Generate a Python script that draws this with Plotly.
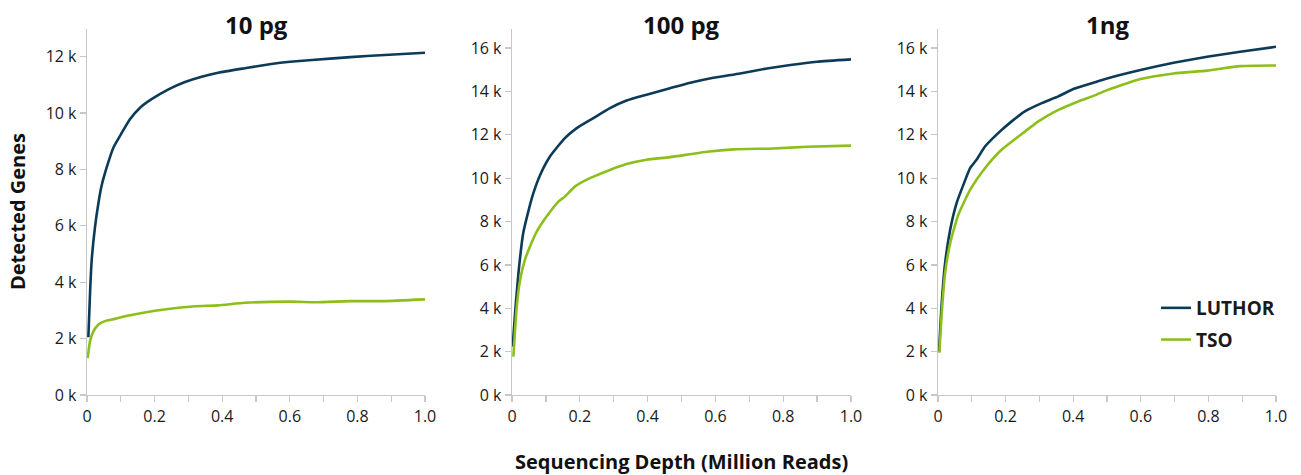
import plotly.graph_objects as go

# ---------------- data ----------------
panel_titles = ["10 pg", "100 pg", "1ng"]
series_names = ["LUTHOR", "TSO"]

p1_luthor_x = [0.004, 0.009, 0.014, 0.024, 0.034, 0.043, 0.058, 0.078, 0.103, 0.127, 0.157, 0.191, 0.241, 0.290, 0.339, 0.388, 0.467, 0.540, 0.601, 0.729, 0.828, 1.0]
p1_luthor_y = [2050, 3620, 4800, 5990, 6820, 7410, 8060, 8770, 9300, 9780, 10190, 10490, 10840, 11100, 11290, 11430, 11590, 11730, 11820, 11940, 12020, 12140]
p1_tso_x = [0.002, 0.009, 0.019, 0.034, 0.053, 0.083, 0.112, 0.162, 0.241, 0.320, 0.388, 0.467, 0.601, 0.680, 0.778, 0.877, 1.0]
p1_tso_y = [1310, 1910, 2260, 2500, 2620, 2700, 2790, 2910, 3050, 3150, 3180, 3270, 3310, 3290, 3330, 3330, 3390]

p2_luthor_x = [0.002, 0.009, 0.019, 0.033, 0.048, 0.063, 0.083, 0.112, 0.156, 0.191, 0.240, 0.289, 0.338, 0.397, 0.466, 0.526, 0.594, 0.673, 0.752, 0.821, 0.900, 1.0]
p2_luthor_y = [2230, 3770, 5620, 7460, 8460, 9310, 10150, 11000, 11850, 12310, 12770, 13230, 13580, 13850, 14150, 14400, 14630, 14830, 15060, 15220, 15370, 15480]
p2_tso_x = [0.004, 0.014, 0.024, 0.038, 0.053, 0.073, 0.102, 0.137, 0.156, 0.186, 0.230, 0.289, 0.338, 0.397, 0.466, 0.575, 0.654, 0.772, 0.870, 1.0]
p2_tso_y = [1770, 4080, 5310, 6230, 6850, 7540, 8230, 8920, 9150, 9620, 10000, 10380, 10650, 10850, 10970, 11220, 11330, 11370, 11450, 11500]

p3_luthor_x = [0.003, 0.011, 0.021, 0.036, 0.055, 0.075, 0.095, 0.114, 0.139, 0.178, 0.218, 0.257, 0.307, 0.356, 0.396, 0.464, 0.500, 0.599, 0.697, 0.796, 0.894, 1.0]
p3_luthor_y = [2000, 4230, 6080, 7620, 8850, 9690, 10460, 10850, 11460, 12080, 12620, 13080, 13460, 13770, 14080, 14420, 14600, 14990, 15320, 15600, 15830, 16060]
p3_tso_x = [0.004, 0.011, 0.021, 0.036, 0.060, 0.095, 0.139, 0.188, 0.238, 0.297, 0.356, 0.415, 0.464, 0.500, 0.599, 0.697, 0.796, 0.894, 1.0]
p3_tso_y = [1950, 3770, 5620, 7000, 8310, 9460, 10460, 11310, 11920, 12620, 13150, 13540, 13820, 14060, 14570, 14830, 14960, 15170, 15200]

x_tickvals = [0, 0.1, 0.2, 0.3, 0.4, 0.5, 0.6, 0.7, 0.8, 0.9, 1.0]
x_ticktext = ["0", "", "0.2", "", "0.4", "", "0.6", "", "0.8", "", "1.0"]
y1_tickvals = [0, 2000, 4000, 6000, 8000, 10000, 12000]
y1_ticktext = ["0 k", "2 k", "4 k", "6 k", "8 k", "10 k", "12 k"]
y2_tickvals = [0, 2000, 4000, 6000, 8000, 10000, 12000, 14000, 16000]
y2_ticktext = ["0 k", "2 k", "4 k", "6 k", "8 k", "10 k", "12 k", "14 k", "16 k"]

x_title = "Sequencing Depth (Million Reads)"
y_title = "Detected Genes"

# ---------------- style ----------------
C_LUTHOR = "#0c3b58"
C_TSO = "#8dbe1a"
AXIS_C = "#c8c8c8"
FONT = "Open Sans"
W, H = 1301, 475

x_domains = [[87 / W, 425 / W], [512 / W, 851 / W], [938 / W, 1276 / W]]
y_domain = [1 - 395 / H, 1 - 29 / H]
y_ranges = [[0, 12980], [0, 16880], [0, 16880]]

fig = go.Figure()

panels = [
    (p1_luthor_x, p1_luthor_y, p1_tso_x, p1_tso_y),
    (p2_luthor_x, p2_luthor_y, p2_tso_x, p2_tso_y),
    (p3_luthor_x, p3_luthor_y, p3_tso_x, p3_tso_y),
]

for i, (lx, ly, tx, ty) in enumerate(panels):
    xa = "x" if i == 0 else f"x{i+1}"
    ya = "y" if i == 0 else f"y{i+1}"
    fig.add_trace(go.Scatter(x=lx, y=ly, mode="lines", name=series_names[0],
                             line=dict(color=C_LUTHOR, width=2.6, shape="spline", smoothing=0.5),
                             xaxis=xa, yaxis=ya, showlegend=(i == 2),
                             legendgroup="a"))
    fig.add_trace(go.Scatter(x=tx, y=ty, mode="lines", name=series_names[1],
                             line=dict(color=C_TSO, width=2.6, shape="spline", smoothing=0.5),
                             xaxis=xa, yaxis=ya, showlegend=(i == 2),
                             legendgroup="b"))

layout = dict(
    width=W, height=H, autosize=False,
    margin=dict(l=0, r=0, t=0, b=0, pad=0, autoexpand=False),
    paper_bgcolor="white", plot_bgcolor="white",
    font=dict(family=FONT, color="#1a1a1a", size=16),
    legend=dict(x=1156 / W, y=1 - 289 / H, xanchor="left", yanchor="top",
                bgcolor="rgba(0,0,0,0)", traceorder="grouped", tracegroupgap=4,
                font=dict(family=FONT, size=19, color="#1a1a1a", weight="bold"),
                itemwidth=30),
)

for i in range(3):
    xk = "xaxis" if i == 0 else f"xaxis{i+1}"
    yk = "yaxis" if i == 0 else f"yaxis{i+1}"
    anchor_x = "y" if i == 0 else f"y{i+1}"
    anchor_y = "x" if i == 0 else f"x{i+1}"
    layout[xk] = dict(domain=x_domains[i], range=[0, 1.0], anchor=anchor_x, automargin=False,
                      tickmode="array", tickvals=x_tickvals, ticktext=x_ticktext,
                      showgrid=False, zeroline=False, showline=True, linecolor=AXIS_C,
                      linewidth=1.3, ticks="outside", ticklen=6, tickcolor=AXIS_C,
                      tickwidth=1.3, tickfont=dict(size=16, family=FONT, color="#1a1a1a"))
    layout[yk] = dict(domain=y_domain, range=y_ranges[i], anchor=anchor_y, automargin=False,
                      tickmode="array",
                      tickvals=y1_tickvals if i == 0 else y2_tickvals,
                      ticktext=y1_ticktext if i == 0 else y2_ticktext,
                      showgrid=False, zeroline=False, showline=True, linecolor=AXIS_C,
                      linewidth=1.3, ticks="outside", ticklen=6, tickcolor=AXIS_C,
                      tickwidth=1.3, tickfont=dict(size=16, family=FONT, color="#1a1a1a"))

annotations = []
for i, t in enumerate(panel_titles):
    cx = (x_domains[i][0] + x_domains[i][1]) / 2
    annotations.append(dict(text=t, x=cx, y=1 - 25 / H, xref="paper", yref="paper",
                            xanchor="center", yanchor="middle", showarrow=False,
                            font=dict(size=24, family=FONT, color="#111", weight="bold")))
annotations.append(dict(text=x_title, x=(x_domains[1][0] + x_domains[1][1]) / 2, y=1 - 461 / H,
                        xref="paper", yref="paper", xanchor="center", yanchor="middle",
                        showarrow=False,
                        font=dict(size=20, family=FONT, color="#111", weight="bold")))
annotations.append(dict(text=y_title, x=17 / W, y=1 - 212 / H, xref="paper", yref="paper",
                        xanchor="center", yanchor="middle", showarrow=False, textangle=-90,
                        font=dict(size=20, family=FONT, color="#111", weight="bold")))
layout["annotations"] = annotations

fig.update_layout(**layout)
fig.write_html("out.html",
               config={"displayModeBar": False, "staticPlot": True},
               post_script="document.body.style.margin='0';document.body.style.overflow='hidden';")
